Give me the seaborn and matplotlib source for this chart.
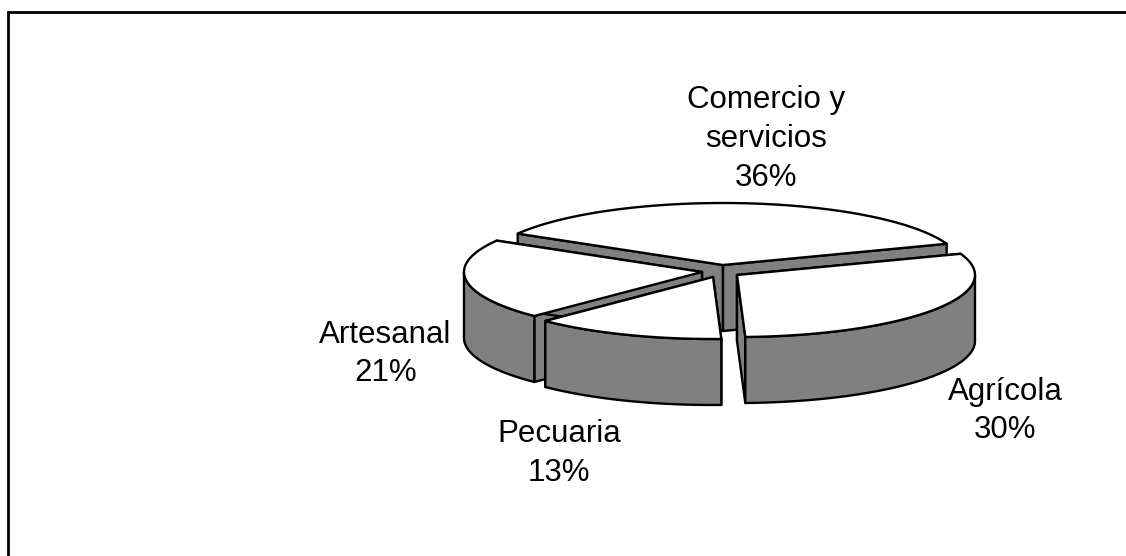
import matplotlib.pyplot as plt
import numpy as np
import seaborn as sns
from matplotlib.patches import Polygon

# Data
categories = ['Comercio y\nservicios', 'Agrícola', 'Pecuaria', 'Artesanal']
shares = [36, 30, 13, 21]

# Layout in pixels: apex of every exploded slice and where its label goes
apex_x = [723, 737, 713, 702]
apex_y = [265, 275, 277, 272]
label_x = [766, 1005, 559, 385.5]
label_y = [139, 411, 453.5, 354]
draw_order = [0, 3, 2, 1]

start_angle = 149.6  # slices run clockwise from here
rx, ry = 238, 62
depth = 66
wall_color = '#808080'
edge = 'black'
lw = 1.7

sns.set_style('white')
plt.rcParams['font.family'] = ['Liberation Sans', 'DejaVu Sans']

fig = plt.figure(figsize=(11.26, 5.56), dpi=100)
ax = fig.add_axes([0, 0, 1, 1])
ax.set_xlim(0, 1126)
ax.set_ylim(556, 0)
ax.axis('off')

# Frame of the chart area, only top and left are inside the picture
ax.plot([8, 8, 1126], [556, 12, 12], color=edge, lw=2, solid_joinstyle='miter')


def rim(cx, cy, ang):
    a = np.radians(ang)
    return np.column_stack([cx + rx * np.cos(a), cy - ry * np.sin(a)])


def draw_slice(cx, cy, a0, a1):
    # a0 > a1, going clockwise
    angs = np.linspace(a0, a1, 90)
    arc = rim(cx, cy, angs)
    apex = np.array([[cx, cy]])
    down = np.array([0, depth])

    # straight cut faces
    for a in (a0, a1):
        p = rim(cx, cy, np.array([a]))
        face = np.vstack([apex, p, p + down, apex + down])
        ax.add_patch(Polygon(face, fc=wall_color, ec=edge, lw=lw, joinstyle='round'))

    # outer curved face, front half only
    front = angs[np.sin(np.radians(angs)) < 0]
    if len(front) > 1:
        f = rim(cx, cy, front)
        ax.add_patch(Polygon(np.vstack([f, (f + down)[::-1]]), fc=wall_color, ec=edge, lw=lw,
                             joinstyle='round'))

    # top
    ax.add_patch(Polygon(np.vstack([apex, arc]), fc='white', ec=edge, lw=lw, joinstyle='round'))


# Slice angles come from the shares
total = sum(shares)
sweeps = [s / total * 360 for s in shares]
starts = start_angle - np.cumsum([0] + sweeps[:-1])

for i in draw_order:
    draw_slice(apex_x[i], apex_y[i], starts[i], starts[i] - sweeps[i])

for i in range(len(categories)):
    ax.text(label_x[i], label_y[i], f'{categories[i]}\n{shares[i]}%', ha='center', va='center',
            fontsize=22.5, linespacing=1.37, color='black')

fig.savefig('out.png', dpi=100)
